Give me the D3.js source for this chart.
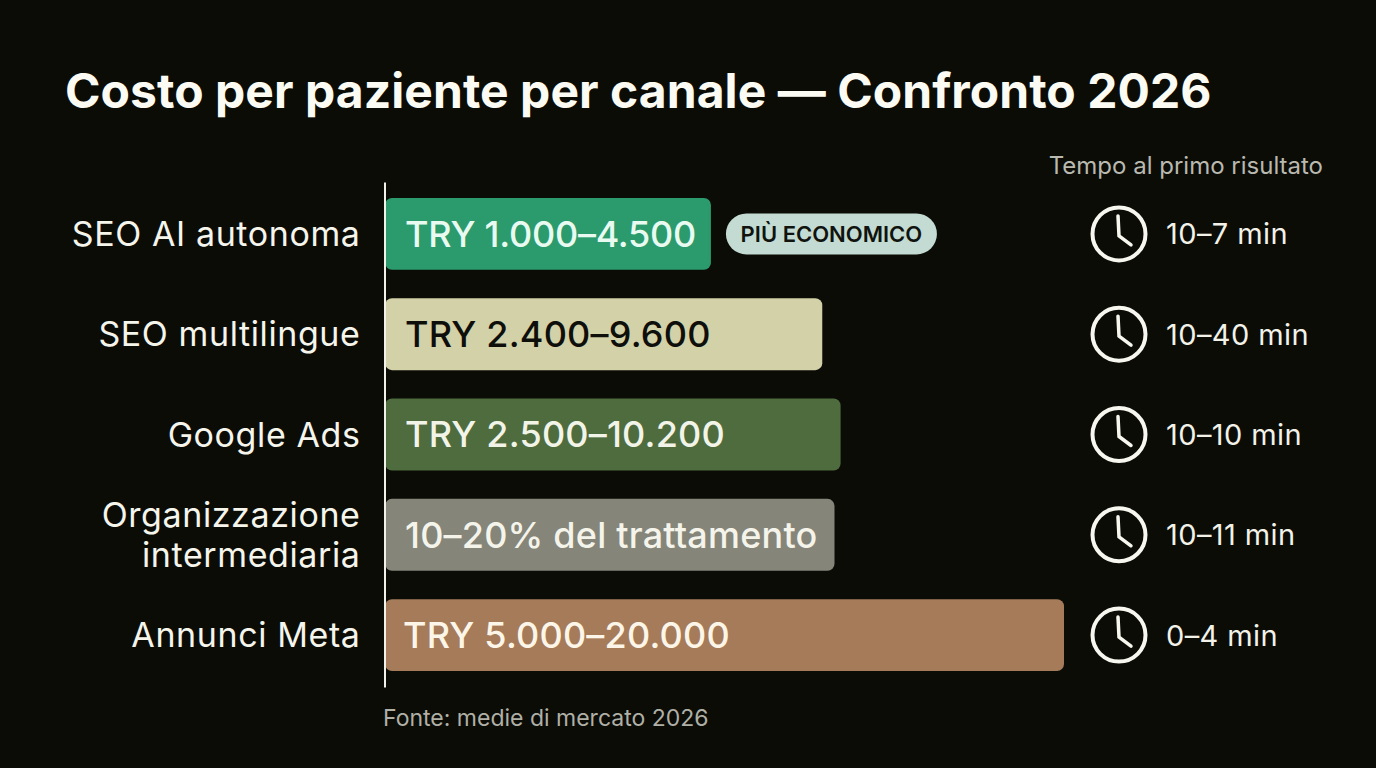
<!DOCTYPE html>
<html>
<head>
<meta charset="utf-8">
<script src="https://cdn.jsdelivr.net/npm/d3@7"></script>
<style>
html, body { margin: 0; padding: 0; background: #0b0c06; }
svg { display: block; }
text { font-family: Inter, sans-serif; }
</style>
</head>
<body>
<svg id="chart" width="1376" height="768"></svg>
<script>
const categories = ['SEO AI autonoma', 'SEO multilingue', 'Google Ads', 'Organizzazione\nintermediaria', 'Annunci Meta'];
// bar lengths as % of the longest bar (not proportional to the labels)
const barLengths = [48, 64.4, 67.1, 66.2, 100];
const barLabels = ['TRY 1.000–4.500', 'TRY 2.400–9.600', 'TRY 2.500–10.200', '10–20% del trattamento', 'TRY 5.000–20.000'];
const barColours = ['#2b9a6c', '#d3d1a7', '#4f6c3f', '#85857a', '#a67b5a'];
const labelColours = ['#e9fbf1', '#0e0f0a', '#f3f4e8', '#f5f4ea', '#fdf6e8'];
const times = ['10–7 min', '10–40 min', '10–10 min', '10–11 min', '0–4 min'];
const clockHand = [[-1, -18], [0, 2], [12, 11]];

const svg = d3.select('#chart');
const x = d3.scaleLinear().domain([0, 100]).range([385, 1064]);
const y = d3.scaleBand()
	.domain(categories)
	.range([182, 687])
	.paddingInner(0.283)
	.paddingOuter(0.159);

svg.append('text')
	.attr('x', 65)
	.attr('y', 108)
	.attr('font-size', 48)
	.attr('font-weight', 700)
	.attr('letter-spacing', 0.05)
	.attr('fill', '#fbfbf3')
	.text('Costo per paziente per canale — Confronto 2026');

svg.append('text')
	.attr('x', 1323)
	.attr('y', 174)
	.attr('text-anchor', 'end')
	.attr('font-size', 24)
	.attr('fill', '#b9b9b0')
	.text('Tempo al primo risultato');

// bars first so the axis line sits on top
const rows = svg.append('g')
	.selectAll('g')
	.data(categories)
	.join('g');

rows.append('rect')
	.attr('x', x(0))
	.attr('y', d => y(d))
	.attr('width', (d, i) => x(barLengths[i]) - x(0))
	.attr('height', y.bandwidth())
	.attr('rx', 7)
	.attr('fill', (d, i) => barColours[i]);

// first label is a bit tighter and the last sits a bit further left in the reference
rows.append('text')
	.attr('x', (d, i) => x(0) + (i === 4 ? 18 : 20))
	.attr('y', d => y(d) + y.bandwidth() / 2)
	.attr('dy', '0.36em')
	.attr('font-size', 36)
	.attr('font-weight', 500)
	.attr('letter-spacing', (d, i) => i === 0 ? -0.25 : 0.2)
	.attr('fill', (d, i) => labelColours[i])
	.text((d, i) => barLabels[i]);

const axis = svg.append('g')
	.attr('transform', 'translate(384.5,0)')
	.call(d3.axisLeft(y).tickSize(0).tickPadding(24).tickFormat(''));
axis.select('.domain').attr('stroke', '#f2f2ea').attr('stroke-width', 2);

axis.selectAll('.tick text').each(function(d) {
	const lines = d.split('\n');
	const t = d3.select(this)
		.attr('fill', '#f5f5ec')
		.attr('font-size', 34)
		.attr('letter-spacing', 0.6)
		.attr('text-anchor', 'end')
		.attr('dy', null)
		.attr('y', 0);
	lines.forEach((line, i) => {
		t.append('tspan')
			.attr('x', -24)
			.attr('y', (i - (lines.length - 1) / 2) * 40)
			.attr('dy', '0.36em')
			.text(line);
	});
});

// pill next to the cheapest bar
const pill = svg.append('g')
	.attr('transform', `translate(${x(barLengths[0]) + 15},${y(categories[0]) + y.bandwidth() / 2})`);
pill.append('rect')
	.attr('y', -20.5)
	.attr('width', 211)
	.attr('height', 41)
	.attr('rx', 20.5)
	.attr('fill', '#c3dbd2');
pill.append('text')
	.attr('x', 105.5)
	.attr('dy', '0.36em')
	.attr('text-anchor', 'middle')
	.attr('font-size', 22)
	.attr('font-weight', 600)
	.attr('fill', '#10130e')
	.text('PIÙ ECONOMICO');

// clock + time column
const handLine = d3.line();
const clocks = svg.append('g')
	.selectAll('g')
	.data(categories)
	.join('g')
	.attr('transform', d => `translate(1119,${y(d) + y.bandwidth() / 2})`);

clocks.append('circle')
	.attr('r', 26.5)
	.attr('fill', 'none')
	.attr('stroke', '#f7f7ef')
	.attr('stroke-width', 4);

clocks.append('path')
	.attr('d', handLine(clockHand))
	.attr('fill', 'none')
	.attr('stroke', '#f7f7ef')
	.attr('stroke-width', 3.5)
	.attr('stroke-linecap', 'round');

clocks.append('text')
	.attr('x', 47)
	.attr('dy', '0.36em')
	.attr('font-size', 29)
	.attr('letter-spacing', 0.4)
	.attr('fill', '#f2f2e9')
	.text((d, i) => times[i]);

svg.append('text')
	.attr('x', 383)
	.attr('y', 726)
	.attr('font-size', 23)
	.attr('fill', '#b0b0a6')
	.text('Fonte: medie di mercato 2026');
</script>
</body>
</html>
